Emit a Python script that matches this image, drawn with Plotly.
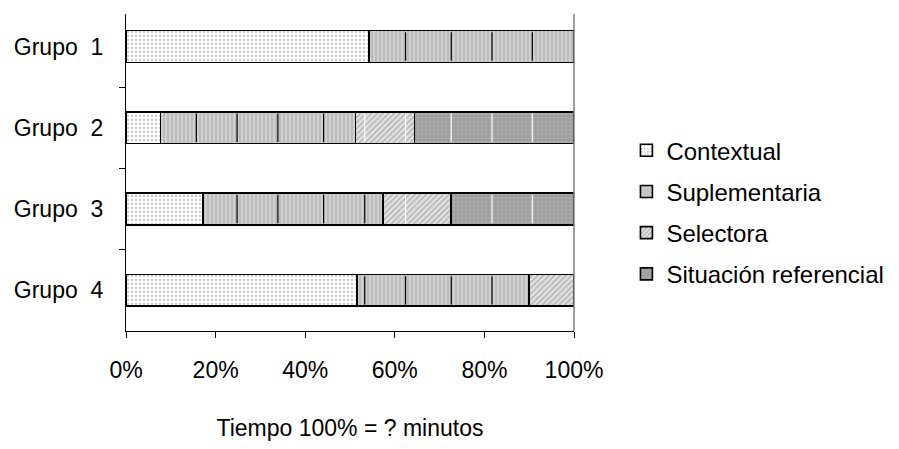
import plotly.graph_objects as go

# ---- data ----
groups = ["Grupo\u00a0 1", "Grupo\u00a0 2", "Grupo\u00a0 3", "Grupo\u00a0 4"]
series_names = ["Contextual", "Suplementaria", "Selectora", "Situación referencial"]
contextual = [54.3, 7.7, 17.2, 51.6]
suplementaria = [45.7, 43.5, 40.1, 38.4]
selectora = [0.0, 13.2, 15.3, 10.0]
situacion = [0.0, 35.6, 27.4, 0.0]
x_ticks = [0, 20, 40, 60, 80, 100]
x_tick_labels = ["0%", "20%", "40%", "60%", "80%", "100%"]

# ---- styles ----
FONT = "Arial, 'Liberation Sans', sans-serif"
patterns = [
    dict(shape=".", fgcolor="#8a8a8a", bgcolor="#ffffff", size=4, solidity=0.25),
    dict(shape="|", fgcolor="#9a9a9a", bgcolor="#d0d0d0", size=4, solidity=0.4),
    dict(shape="/", fgcolor="#7a7a7a", bgcolor="#e2e2e2", size=4, solidity=0.35),
    dict(shape="+", fgcolor="#777777", bgcolor="#acacac", size=4, solidity=0.35),
]
# rendering-artifact lines seen inside the patterned fills (style only)
artifact_x = [15.7, 24.8, 33.9, 44.1, 53.3, 62.4, 72.6, 81.7, 90.7]
artifact_color = [None, "#000000", "#ffffff", "#ffffff"]
BAR_HALF = 0.195

all_series = [contextual, suplementaria, selectora, situacion]

fig = go.Figure()
for name, vals, pat in zip(series_names, all_series, patterns):
    fig.add_trace(go.Bar(
        y=groups, x=vals, name=name, orientation="h",
        legendgroup=name,
        marker=dict(color=pat["bgcolor"], pattern=pat,
                    line=dict(color="#000000", width=1.6)),
    ))

# artifact lines computed from the stacked data
shapes = []
for gi, g in enumerate(groups):
    start = 0.0
    for si, vals in enumerate(all_series):
        end = start + vals[gi]
        col = artifact_color[si]
        if col is not None:
            for p in artifact_x:
                if start + 0.8 < p < end - 0.8:
                    shapes.append(dict(type="line", xref="x", yref="y",
                                       x0=p, x1=p, y0=gi - BAR_HALF + 0.02, y1=gi + BAR_HALF - 0.02,
                                       line=dict(color=col, width=1.2), layer="above"))
        start = end

# right border line of the plot area
shapes.append(dict(type="line", xref="x domain", yref="y domain", x0=1, x1=1, y0=0, y1=1,
                   line=dict(color="#808080", width=1.5), layer="above"))

fig.update_layout(
    barmode="stack",
    bargap=0.61,
    width=891, height=441,
    margin=dict(l=115, r=325, t=6, b=118),
    paper_bgcolor="white", plot_bgcolor="white",
    font=dict(family=FONT, size=23, color="#000000"),
    shapes=shapes,
    showlegend=True,
    legend=dict(x=1.117, xanchor="left", y=0.375, yanchor="middle",
                traceorder="grouped", tracegroupgap=7,
                font=dict(family=FONT, size=24, color="#000000"),
                itemwidth=30, bgcolor="rgba(0,0,0,0)"),
)
fig.update_xaxes(
    range=[0, 100], tickvals=x_ticks, ticktext=x_tick_labels,
    showgrid=False, zeroline=False,
    showline=True, linecolor="#000000", linewidth=1.2,
    ticks="outside", ticklen=6, tickcolor="#000000", tickwidth=1.2,
    ticklabelstandoff=12,
    title=dict(text="Tiempo 100% = ? minutos", standoff=38, font=dict(size=23)),
    tickfont=dict(size=23),
)
fig.update_yaxes(
    categoryorder="array", categoryarray=groups,
    range=[3.5, -0.4],
    showgrid=False, zeroline=False,
    showline=True, linecolor="#000000", linewidth=1.2,
    ticks="outside", ticklen=6, tickcolor="#000000", tickwidth=1.2,
    tickson="boundaries",
    ticklabelstandoff=17,
    tickfont=dict(size=23),
)

fig.write_html("out.html")
